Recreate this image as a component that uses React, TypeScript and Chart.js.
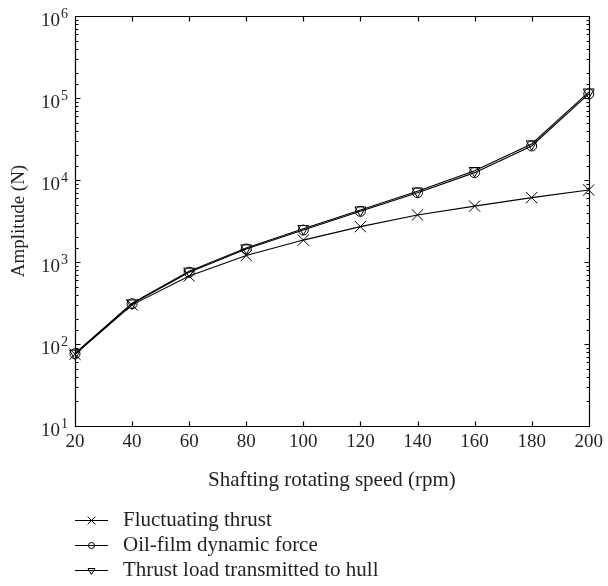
import React, { useEffect, useRef } from "react";
import { Chart, registerables } from "chart.js";
import { drawPoint } from "chart.js/helpers";

Chart.register(...registerables);

// ---- data ----
const speeds = [20, 40, 60, 80, 100, 120, 140, 160, 180, 200];
const fluctuatingThrust = [75, 300, 675, 1200, 1850, 2700, 3750, 4800, 6100, 7550];
const oilFilmForce = [76, 310, 750, 1440, 2450, 4150, 7000, 12300, 26000, 112000];
const thrustLoadHull = [77, 315, 770, 1480, 2550, 4300, 7300, 13000, 27500, 118000];
const seriesNames = ["Fluctuating thrust", "Oil-film dynamic force", "Thrust load transmitted to hull"];
const xTickValues = [20, 40, 60, 80, 100, 120, 140, 160, 180, 200];
const yMin = 10;
const yMax = 1000000;
const xTitle = "Shafting rotating speed (rpm)";
const yTitle = "Amplitude (N)";

const FONT = "'Liberation Serif', 'DejaVu Serif', serif";
const TEXT = "#231f20";
const TICK_FS = 19;
const TITLE_FS = 21;
const LEGEND_FS = 21;
const isDecade = (v: number) => Math.abs(Math.log10(v) - Math.round(Math.log10(v))) < 1e-9;

const markerStyles = [
  { pointStyle: "crossRot", rotation: 0, radius: 8, legendRadius: 5.5 },
  { pointStyle: "circle", rotation: 0, radius: 5, legendRadius: 3 },
  { pointStyle: "triangle", rotation: 180, radius: 6.3, legendRadius: 4 },
];

const frameAndLegend = {
  id: "frameAndLegend",
  afterDraw(chart: any) {
    const { ctx, chartArea, scales } = chart;
    const { left, right, top, bottom } = chartArea;
    const xs = scales.x;
    const ys = scales.y;
    ctx.save();
    ctx.strokeStyle = "#000";
    ctx.lineWidth = 1.2;
    const L = Math.round(left) + 0.5;
    const R = Math.round(right) + 0.5;
    const T = Math.round(top) + 0.5;
    const B = Math.round(bottom) + 0.5;
    ctx.beginPath();
    ctx.rect(L, T, R - L, B - T);
    xs.ticks.forEach((t: any) => {
      const px = Math.round(xs.getPixelForValue(t.value)) + 0.5;
      ctx.moveTo(px, B);
      ctx.lineTo(px, B - 5);
      ctx.moveTo(px, T);
      ctx.lineTo(px, T + 5);
    });
    ys.ticks.forEach((t: any) => {
      const py = Math.round(ys.getPixelForValue(t.value)) + 0.5;
      const len = isDecade(t.value) ? 5 : 3;
      ctx.moveTo(L, py);
      ctx.lineTo(L + len, py);
      ctx.moveTo(R, py);
      ctx.lineTo(R - len, py);
    });
    ctx.stroke();

    // y tick labels: 10 with raised exponent
    ctx.fillStyle = TEXT;
    ctx.textBaseline = "alphabetic";
    ys.ticks.forEach((t: any) => {
      if (!isDecade(t.value)) return;
      const py = ys.getPixelForValue(t.value);
      const exp = String(Math.round(Math.log10(t.value)));
      ctx.font = `${TICK_FS - 5}px ${FONT}`;
      const ew = ctx.measureText(exp).width;
      ctx.textAlign = "left";
      const ex = 68 - ew;
      ctx.fillText(exp, ex, py + 2);
      ctx.font = `${TICK_FS}px ${FONT}`;
      ctx.textAlign = "right";
      ctx.fillText("10", ex - 1, py + 10);
    });

    // legend
    const rows = [520, 545, 570];
    const x0 = 75;
    const x1 = 108;
    rows.forEach((ry, i) => {
      ctx.strokeStyle = "#000";
      ctx.fillStyle = "rgba(0,0,0,0)";
      ctx.lineWidth = 1;
      ctx.beginPath();
      ctx.moveTo(x0, ry + 0.5);
      ctx.lineTo(x1, ry + 0.5);
      ctx.stroke();
      const m = markerStyles[i];
      drawPoint(ctx, { pointStyle: m.pointStyle, rotation: m.rotation, radius: m.legendRadius, borderWidth: 1 } as any, (x0 + x1) / 2, ry + 0.5);
      ctx.fillStyle = TEXT;
      ctx.font = `${LEGEND_FS}px ${FONT}`;
      ctx.textBaseline = "middle";
      ctx.textAlign = "left";
      ctx.fillText(seriesNames[i], 123, ry);
    });
    ctx.restore();
  },
};

export default function App() {
  const ref = useRef<HTMLCanvasElement | null>(null);
  useEffect(() => {
    document.body.style.margin = "0";
    const canvas = ref.current!;
    const seriesValues = [fluctuatingThrust, oilFilmForce, thrustLoadHull];
    const chart = new Chart(canvas, {
      type: "line",
      data: {
        datasets: seriesValues.map((vals, i) => ({
          label: seriesNames[i],
          data: speeds.map((s, j) => ({ x: s, y: vals[j] })),
          borderColor: "#000",
          borderWidth: 1.1,
          backgroundColor: "rgba(0,0,0,0)",
          pointBorderColor: "#000",
          pointBackgroundColor: "rgba(0,0,0,0)",
          pointBorderWidth: 1,
          pointStyle: markerStyles[i].pointStyle as any,
          pointRotation: markerStyles[i].rotation,
          pointRadius: markerStyles[i].radius,
          fill: false,
          tension: 0,
          clip: false as any,
        })),
      },
      options: {
        responsive: false,
        animation: false,
        events: [],
        layout: { padding: { left: 0, right: 16, top: 16, bottom: 93 } },
        plugins: { legend: { display: false }, tooltip: { enabled: false } },
        scales: {
          x: {
            type: "linear",
            min: 20,
            max: 200,
            afterBuildTicks: (s: any) => {
              s.ticks = xTickValues.map((v) => ({ value: v }));
            },
            afterFit: (s: any) => {
              s.height = 67;
            },
            grid: { display: false, drawTicks: false },
            border: { display: false },
            ticks: {
              color: TEXT,
              padding: 5,
              maxRotation: 0,
              autoSkip: false,
              font: { family: FONT, size: TICK_FS },
              callback: (v: any) => String(v),
            },
            title: {
              display: true,
              text: xTitle,
              color: TEXT,
              font: { family: FONT, size: TITLE_FS },
              padding: { top: 0, bottom: 0 },
            },
          },
          y: {
            type: "logarithmic",
            min: yMin,
            max: yMax,
            afterFit: (s: any) => {
              s.width = 75;
            },
            grid: { display: false, drawTicks: false },
            border: { display: false },
            ticks: {
              autoSkip: false,
              callback: () => "",
            },
            title: {
              display: true,
              text: yTitle,
              color: TEXT,
              font: { family: FONT, size: TICK_FS },
              padding: { top: 8, bottom: 0 },
            },
          },
        },
      },
      plugins: [frameAndLegend],
    });
    return () => chart.destroy();
  }, []);
  return <canvas ref={ref} width={608} height={586} style={{ display: "block" }} />;
}
